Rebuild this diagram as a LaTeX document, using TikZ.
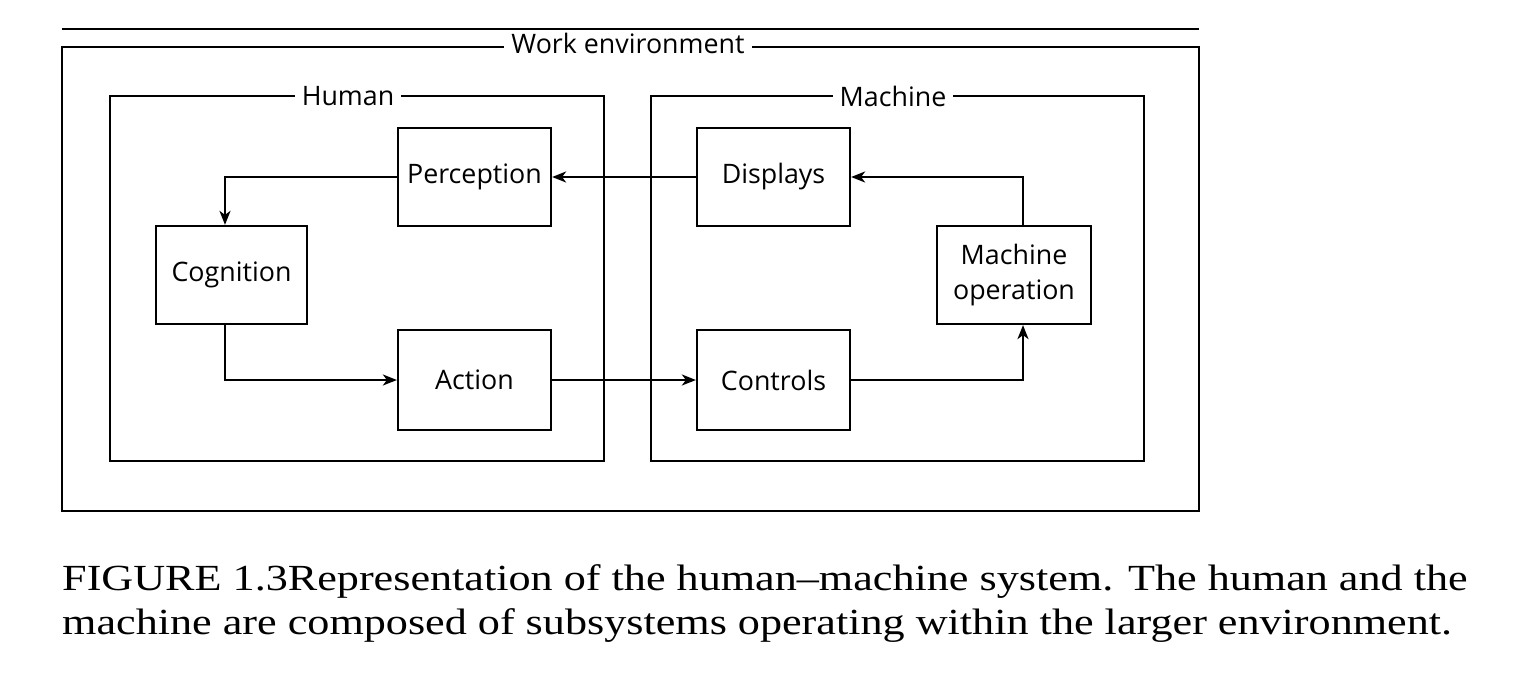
\documentclass[tikz,border=0pt]{standalone}
\usepackage{fontspec}
\setmainfont{Liberation Serif}
\newfontfamily\capfont[FakeStretch=1.2]{Liberation Serif}
\newfontfamily\diagfont{Open Sans}
\usetikzlibrary{arrows.meta}
\begin{document}
\begin{tikzpicture}[x=1pt,y=-1pt,
  blk/.style={draw, line width=2.2pt, minimum width=153pt, minimum height=98pt,
    font=\diagfont\fontsize{26.8}{35}\selectfont, align=center, inner sep=0pt},
  frame/.style={draw, line width=2.2pt},
  lbl/.style={fill=white, font=\diagfont\fontsize{26.8}{30}\selectfont, inner xsep=7pt, inner ysep=1pt},
  arr/.style={line width=2.2pt, -{Stealth[length=14pt,width=11pt,inset=4pt]}},
  captext/.style={anchor=base west, inner sep=0pt, font=\capfont\fontsize{36.8}{42}\selectfont}]
\useasboundingbox (0,0) rectangle (1531,681);
\fill[white] (0,0) rectangle (1531,681);
% frames
\draw[line width=1.2pt] (62,29) -- (1199,29);
\draw[frame] (62,47) rectangle (1199,511);
\draw[frame] (110,96) rectangle (604,461);
\draw[frame] (651,96) rectangle (1144,461);
\node[lbl] (we) at (628,43) {Work environment};
\node[lbl] (hu) at (348,96) {Human};
\node[lbl] (ma) at (893,96) {Machine};
% blocks
\node[blk] (perc) at (474.5,177) {Perception};
\node[blk, minimum width=151pt] (cogn) at (231.5,275) {Cognition};
\node[blk, minimum height=100pt] (act) at (474.5,380) {Action};
\node[blk] (disp) at (773.5,177) {Displays};
\node[blk, minimum width=154pt] (mop) at (1014,275) {Machine\\operation};
\node[blk, minimum height=100pt] (ctrl) at (773.5,380) {Controls};
% arrows
\draw[arr] (disp.west) -- (perc.east);
\draw[arr] (perc.west) -| ([xshift=-6.5pt]cogn.north);
\draw[arr] ([xshift=-6.5pt]cogn.south) |- (act.west);
\draw[arr] (act.east) -- (ctrl.west);
\draw[arr] (ctrl.east) -| ([xshift=9pt]mop.south);
\draw[arr] ([xshift=9pt]mop.north) |- (disp.east);
% caption
\node[captext] (c1) at (62,590) {FIGURE 1.3Representation of the human–machine system. The human and the};
\node[captext] (c2) at (62,634) {machine are composed of subsystems operating within the larger environment.};
\end{tikzpicture}
\end{document}
